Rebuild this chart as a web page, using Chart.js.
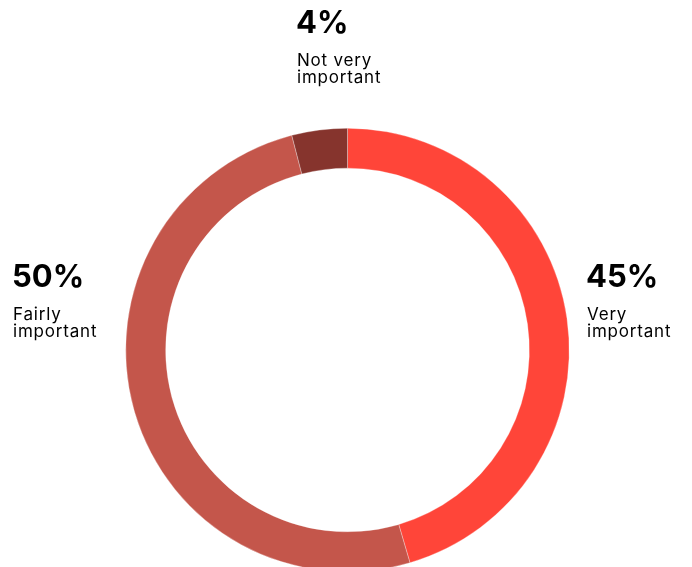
<!DOCTYPE html>
<html>
<head>
<meta charset="utf-8">
<script src="https://cdn.jsdelivr.net/npm/chart.js@4"></script>
<style>
  html, body { margin: 0; padding: 0; background: #fff; overflow: hidden; }
  #chart { display: block; }
</style>
</head>
<body>
<canvas id="chart" width="692" height="600"></canvas>
<script>
const categories = ["Very important", "Fairly important", "Not very important"];
const shares = [45, 50, 4];
const labelLines = [["Very", "important"], ["Fairly", "important"], ["Not very", "important"]];
const colors = ["#ff4539", "#c4564b", "#86342d"];

// where each category's caption sits (top-left corner)
const captionPos = [
  { x: 587, y: 264 },
  { x: 13, y: 264 },
  { x: 297, y: 10 },
];

const captions = {
  id: "captions",
  afterDraw(chart) {
    const ctx = chart.ctx;
    ctx.save();
    ctx.fillStyle = "#000";
    ctx.textBaseline = "alphabetic";
    ctx.textAlign = "left";
    shares.forEach((v, i) => {
      const p = captionPos[i];
      ctx.letterSpacing = "0px";
      ctx.font = "bold 31px Inter";
      ctx.fillText(v + "%", p.x - 1, p.y + 23);
      ctx.font = "17px Inter";
      ctx.letterSpacing = "0.8px";
      labelLines[i].forEach((line, j) => {
        ctx.fillText(line, p.x, p.y + 56 + j * 17);
      });
    });
    ctx.restore();
  },
};

new Chart(document.getElementById("chart"), {
  type: "doughnut",
  data: {
    labels: categories,
    datasets: [
      {
        data: shares,
        backgroundColor: colors,
        borderColor: "rgba(255,255,255,0.6)",
        borderWidth: 0.5,
      },
    ],
  },
  options: {
    responsive: false,
    animation: false,
    cutout: "82%",
    layout: { padding: { left: 125, right: 122, top: 128, bottom: 28 } },
    plugins: {
      legend: { display: false },
      tooltip: { enabled: false },
    },
  },
  plugins: [captions],
});
</script>
</body>
</html>
